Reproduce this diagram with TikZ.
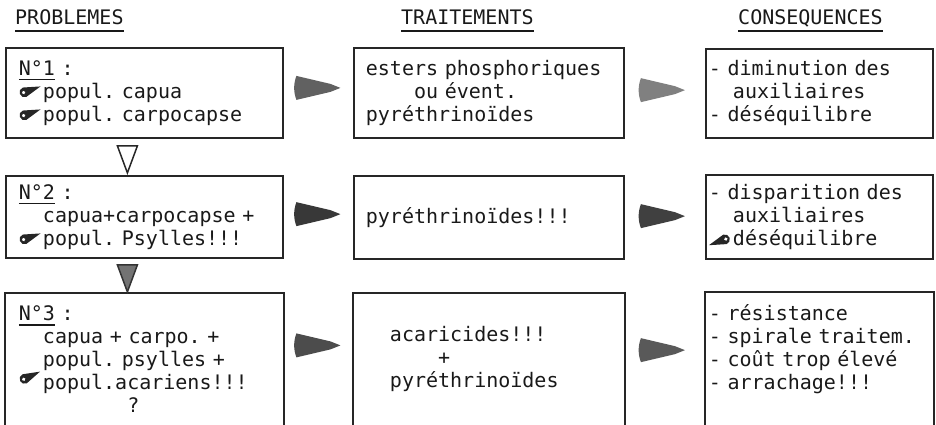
\documentclass[tikz,border=0pt]{standalone}
\usepackage{fontspec}
\usetikzlibrary{calc}
\newfontfamily\typew{DejaVu Sans Mono}
\newlength\cw
\setlength\cw{12.04pt}
\newcommand\ind[1]{\hspace*{#1\cw}}
\newcommand\mk[2][0pt]{\makebox[2\cw][l]{\raisebox{#1}{\tikz[x=1pt, y=1pt, baseline=-6pt]{\fill[black!85, rotate=#2] (0,-5) -- (17,0) -- (0,5) arc (90:270:5); \fill[white, rotate=#2] (-1,0) circle (1.8);}}}}
\newcommand\ul[2][5pt]{\setbox0\hbox{#2}\rlap{\rule[-#1]{\wd0}{1.6pt}}\box0\relax}

\begin{document}
\begin{tikzpicture}[
		x=1pt, y=-1pt,
		every node/.style={font=\typew\fontsize{20}{23}\selectfont\frenchspacing, text=black!90},
		head/.style={anchor=base west, inner sep=0pt},
		box/.style={rectangle, draw=black!85, line width=1.8pt, anchor=north west, align=left, inner ysep=0pt},
		openbox/.style={box, draw=none},
		frame/.style={draw=black!85, line width=1.8pt},
		pbox/.style={minimum width=277pt, inner xsep=13pt, text width=251pt},
		tbox/.style={minimum width=270pt, inner xsep=12pt, text width=246pt},
		cbox/.style={minimum width=227pt, inner xsep=3pt, text width=221pt},
		pencil/.pic={\fill[pic actions] (-22,-12) -- (12,-4) -- (22,0) -- (12,4) -- (-22,12) .. controls (-25,4) and (-25,-4) .. (-22,-12) -- cycle;},
		downmark/.pic={\filldraw[pic actions] (-10,-13) -- (10,-13) -- (0,14) -- cycle;}
	]
  \useasboundingbox (0,0) rectangle (936,425);
  \clip (0,0) rectangle (936,425);

  \node (h1) [head] at (15,25) {\ul[7pt]{PROBLEMES}};
  \node (h2) [head] at (401,25) {\ul[7pt]{TRAITEMENTS}};
  \node (h3) [head] at (738,25) {\ul[7pt]{CONSEQUENCES}};

  \node (p1) [box, pbox, minimum height=90pt] at (5,47) {\ul{N°1} :\\ \mk{20}popul. capua\\ \mk{20}popul. carpocapse};
  \node (p2) [box, pbox, minimum height=82pt] at (5,175) {\ul{N°2} :\\ \ind{2}capua+carpocapse +\\ \mk{20}popul. Psylles!!!};
  \node (p3) [openbox, pbox, minimum height=131pt] at (5,293) {\ul{N°3} :\\ \ind{2}capua + carpo. +\\ \ind{2}popul. psylles +\\ \mk[5pt]{25}popul.acariens!!!\\ \ind{9}?};

  \node (t1) [box, tbox, minimum height=90pt] at (353,47) {esters phosphoriques\\ \ind{4}ou évent.\\ pyréthrinoïdes};
  \node (t2) [box, tbox, minimum height=83pt] at (353,175) {pyréthrinoïdes!!!};
  \node (t3) [openbox, tbox, minimum height=131pt] at (353,293) {\ind{2}acaricides!!!\\ \ind{6}+\\ \ind{2}pyréthrinoïdes};

  \node (c1) [box, cbox, minimum height=89pt] at (705,48) {- diminution des\\ \ind{2}auxiliaires\\ - déséquilibre};
  \node (c2) [box, cbox, minimum height=84pt] at (705,174) {- disparition des\\ \ind{2}auxiliaires\\ \mk{200}déséquilibre};
  \node (c3) [openbox, cbox, minimum height=132pt] at (705,292) {- résistance\\ - spirale traitem.\\ - coût trop élevé\\ - arrachage!!!\\ ~};

  \draw [frame] (p3.south west) -- (p3.north west) -- (p3.north east) -- (p3.south east);
  \draw [frame] (t3.south west) -- (t3.north west) -- (t3.north east) -- (t3.south east);
  \draw [frame] (c3.south west) -- (c3.north west) -- (c3.north east) -- (c3.south east);

  \pic [fill=black!62] at ($(p1.east)!0.5!(t1.west)+(0,-5)$) {pencil};
  \pic [fill=black!50] at ($(t1.east)!0.5!(c1.west)+(-2,-3)$) {pencil};
  \pic [fill=black!78] at ($(p2.east)!0.5!(t2.west)+(0,-3)$) {pencil};
  \pic [fill=black!75] at ($(t2.east)!0.5!(c2.west)+(-2,-1)$) {pencil};
  \pic [fill=black!70] at ($(p3.east)!0.5!(t3.west)+(0,-14)$) {pencil};
  \pic [fill=black!65] at ($(t3.east)!0.5!(c3.west)+(-2,-9)$) {pencil};

  \pic [draw=black!85, fill=white, line width=1.5pt] at ($(p1.south)!0.5!(p2.north)+(-17,2)$) {downmark};
  \pic [draw=black!80, fill=black!55, line width=1.5pt] at ($(p2.south)!0.5!(p3.north)+(-17,2)$) {downmark};
\end{tikzpicture}
\end{document}
